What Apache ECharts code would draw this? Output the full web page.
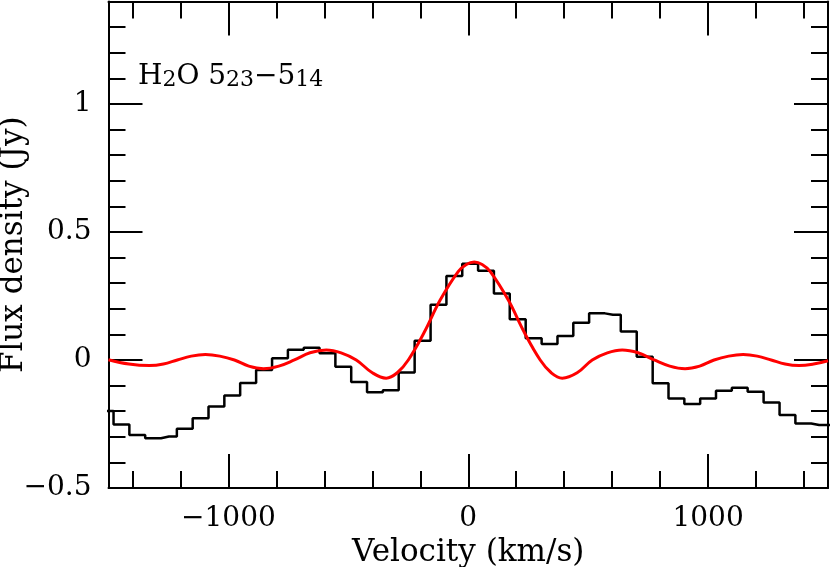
<!DOCTYPE html>
<html>
<head>
<meta charset="utf-8">
<title>H2O 5(23)-5(14) spectrum</title>
<script src="https://cdn.jsdelivr.net/npm/echarts@6/dist/echarts.min.js"></script>
<style>
  html, body { margin: 0; padding: 0; background: #fff; }
  #chart { width: 830px; height: 567px; }
</style>
</head>
<body>
<div id="chart"></div>
<script>
// observed spectrum: channel centres (km/s) and flux density (Jy)
const velocity = [
  -1512, -1446, -1380, -1314, -1248, -1182, -1116, -1050, -984, -918,
  -851, -785, -719, -653, -587, -521, -455, -389, -323, -257,
  -190, -124, -58, 8, 74, 140, 206, 273, 339, 405,
  471, 537, 603, 669, 736, 802, 868, 934, 1000, 1066,
  1132, 1198, 1265, 1331, 1397, 1463, 1529
]
const flux = [
  -0.199, -0.252, -0.293, -0.306, -0.299, -0.269, -0.228, -0.182, -0.139, -0.090,
  -0.039, 0.007, 0.040, 0.048, 0.026, -0.026, -0.086, -0.126, -0.118, -0.049,
  0.075, 0.216, 0.328, 0.376, 0.348, 0.260, 0.159, 0.085, 0.062, 0.094,
  0.145, 0.182, 0.177, 0.111, 0.013, -0.091, -0.150, -0.172, -0.150, -0.120,
  -0.108, -0.124, -0.166, -0.215, -0.248, -0.254, -0.254
]

// red model curve
const modelVelocity = [
  -1500, -1415, -1329, -1271, -1213, -1155, -1096, -1036, -975, -915,
  -854, -790, -725, -660, -592, -530, -467, -400, -342, -296,
  -250, -183, -117, -42, -8, 25, 58, 92, 167, 233,
  300, 346, 392, 454, 517, 580, 642, 708, 775, 840,
  904, 965, 1025, 1086, 1146, 1205, 1263, 1321, 1379, 1440,
  1500
]
const modelFlux = [
  0.001, -0.016, -0.022, -0.016, 0, 0.015, 0.021, 0.015, 0, -0.024,
  -0.034, -0.024, 0, 0.028, 0.039, 0.028, 0, -0.050, -0.071, -0.050,
  0, 0.109, 0.234, 0.345, 0.373, 0.383, 0.373, 0.345, 0.234, 0.109,
  0, -0.050, -0.071, -0.050, 0, 0.028, 0.039, 0.028, 0, -0.024,
  -0.034, -0.024, 0, 0.015, 0.021, 0.015, 0, -0.016, -0.022, -0.016,
  -0.003
]

// tick positions
const xMajorTicks = [-1000, 0, 1000]
const xMinorTicks = [-1400, -1200, -800, -600, -400, -200, 200, 400, 600, 800, 1200, 1400]
const yMajorTicks = [-0.5, 0, 0.5, 1]
const yMinorTicks = [-0.4, -0.3, -0.2, -0.1, 0.1, 0.2, 0.3, 0.4, 0.6, 0.7, 0.8, 0.9, 1.1, 1.2, 1.3]

const fmt = (v) => (v < 0 ? '\u2212' + Math.abs(v) : String(v))

const black = { color: '#000', width: 2 }

// one axis per tick set; the major axis also carries the frame line
const makeAxis = (min, max, position, ticks, len, withLine) => ({
  type: 'value',
  min,
  max,
  position,
  axisLine: { show: withLine, onZero: false, lineStyle: black },
  axisTick: { show: true, inside: true, length: len, customValues: ticks, lineStyle: black },
  axisLabel: { show: false },
  splitLine: { show: false }
})

const xBottom = makeAxis(-1500, 1500, 'bottom', xMajorTicks, 34, true)
xBottom.axisLabel = {
  show: true,
  customValues: xMajorTicks,
  formatter: fmt,
  color: '#000',
  fontSize: 28,
  margin: 17
}
xBottom.name = 'Velocity (km/s)'
xBottom.nameLocation = 'middle'
xBottom.nameGap = 40
xBottom.nameTextStyle = { color: '#000', fontSize: 31 }

const yLeft = makeAxis(-0.5, 1.4, 'left', yMajorTicks, 34, true)
yLeft.axisLabel = {
  show: true,
  customValues: yMajorTicks,
  formatter: fmt,
  color: '#000',
  fontSize: 28,
  margin: 17
}
yLeft.name = 'Flux density (Jy)'
yLeft.nameLocation = 'middle'
yLeft.nameGap = 79
yLeft.nameMoveOverlap = false
yLeft.nameTextStyle = { color: '#000', fontSize: 31 }

const chart = echarts.init(document.getElementById('chart'))

chart.setOption({
  animation: false,
  backgroundColor: '#fff',
  textStyle: { fontFamily: 'DejaVu Serif' },
  grid: { left: 108.5, top: 1.5, width: 719.5, height: 486.5, outerBoundsMode: 'none', containLabel: false },
  xAxis: [
    xBottom,
    makeAxis(-1500, 1500, 'bottom', xMinorTicks, 17, false),
    makeAxis(-1500, 1500, 'top', xMajorTicks, 34, true),
    makeAxis(-1500, 1500, 'top', xMinorTicks, 17, false)
  ],
  yAxis: [
    yLeft,
    makeAxis(-0.5, 1.4, 'left', yMinorTicks, 17, false),
    makeAxis(-0.5, 1.4, 'right', yMajorTicks, 34, true),
    makeAxis(-0.5, 1.4, 'right', yMinorTicks, 17, false)
  ],
  graphic: [
    {
      type: 'text',
      left: 138,
      top: 63,
      style: {
        text: '{n|H}{s|2}{n|O 5}{s|23}{n|\u22125}{s|14}',
        fill: '#000',
        rich: {
          n: { fontFamily: 'DejaVu Serif', fontSize: 28, lineHeight: 28, verticalAlign: 'top', padding: [0, 0, 12, 0] },
          s: { fontFamily: 'DejaVu Serif', fontSize: 22, lineHeight: 22, verticalAlign: 'bottom' }
        }
      }
    }
  ],
  series: [
    {
      name: 'observed',
      type: 'line',
      step: 'middle',
      data: velocity.map((v, i) => [v, flux[i]]),
      symbol: 'none',
      lineStyle: { color: '#000', width: 2.5 }
    },
    {
      name: 'model',
      type: 'line',
      smooth: 0.4,
      data: modelVelocity.map((v, i) => [v, modelFlux[i]]),
      symbol: 'none',
      lineStyle: { color: '#ff0000', width: 3 }
    }
  ]
})
</script>
</body>
</html>
